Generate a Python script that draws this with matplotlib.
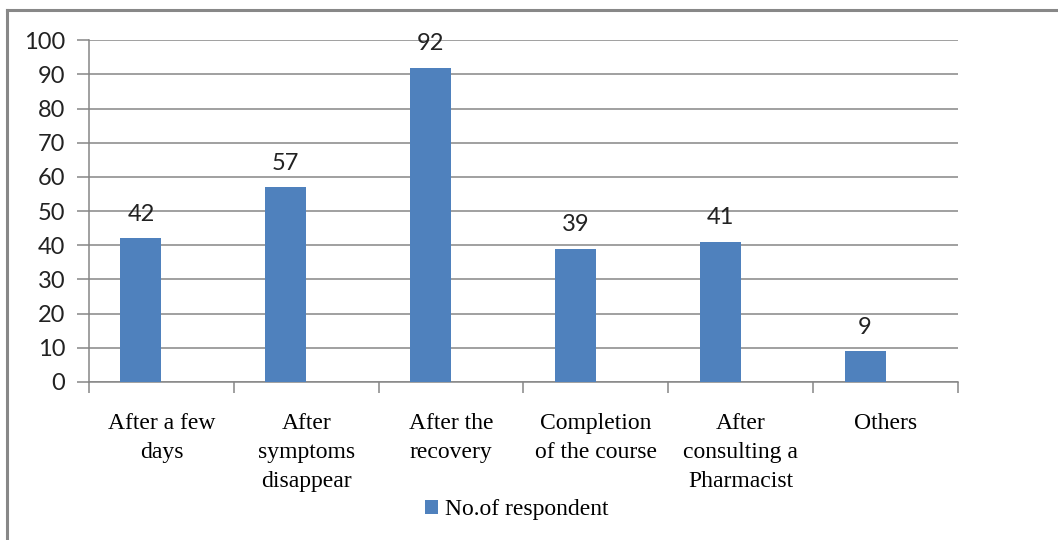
import matplotlib.pyplot as plt
import numpy as np

# Reasons for stopping the medication
categories = ['After a few\ndays', 'After\nsymptoms\ndisappear', 'After the\nrecovery',
              'Completion\nof the course', 'After\nconsulting a\nPharmacist', 'Others']
respondents = [42, 57, 92, 39, 41, 9]
series_name = 'No.of respondent'

bar_color = '#4F81BD'
line_color = '#868686'
sans = 'Lato'
serif = 'Liberation Serif'

fig = plt.figure(figsize=(10.58, 5.4), dpi=100)
ax = fig.add_axes([0.0841, 0.2926, 0.8214, 0.6328])

x = np.arange(len(categories))
width = 0.283
bars = ax.bar(x + 0.5 - width / 2, respondents, width=width, align='center',
              color=bar_color, label=series_name, zorder=3)

for rect, v in zip(bars, respondents):
    ax.text(rect.get_x() + rect.get_width() / 2, v + 4, str(v), ha='center', va='bottom',
            fontsize=17, family=sans, color='#222222')

ax.set_xlim(0, len(categories))
ax.set_ylim(0, 100)
ax.set_yticks(np.arange(0, 101, 10))
ax.yaxis.grid(True, color=line_color, linewidth=1.1, zorder=0)
ax.set_axisbelow(True)

# category boundaries carry the ticks, labels sit at the centres
ax.set_xticks(np.arange(0, len(categories) + 1))
ax.set_xticklabels([])
ax.set_xticks(x + 0.5, minor=True)
ax.set_xticklabels(categories, minor=True, family=serif, fontsize=17, linespacing=1.5,
                   va='top')
ax.tick_params(axis='x', which='minor', length=0, pad=22)
ax.tick_params(axis='x', which='major', length=8, color=line_color, width=1.1)
ax.tick_params(axis='y', length=9, color=line_color, width=1.1, pad=8)
for lab in ax.get_yticklabels():
    lab.set_family(sans)
    lab.set_fontsize(17)
    lab.set_color('#222222')

for s in ['top', 'right']:
    ax.spines[s].set_visible(False)
for s in ['left', 'bottom']:
    ax.spines[s].set_color(line_color)
    ax.spines[s].set_linewidth(1.1)

leg = fig.legend(handles=[bars], labels=[series_name], loc='center',
                 bbox_to_anchor=(517 / 1058, 1 - 510 / 540), frameon=False,
                 prop={'family': serif, 'size': 17}, handlelength=0.55, handleheight=0.55,
                 handletextpad=0.3)

# outer chart frame
fig.add_artist(plt.Line2D([7 / 1058, 1.0], [1 - 10 / 540, 1 - 10 / 540],
                          transform=fig.transFigure, color='#888888', linewidth=2.2))
fig.add_artist(plt.Line2D([7 / 1058, 7 / 1058], [0.0, 1 - 10 / 540],
                          transform=fig.transFigure, color='#888888', linewidth=2.2))

fig.savefig('out.png', dpi=100)
